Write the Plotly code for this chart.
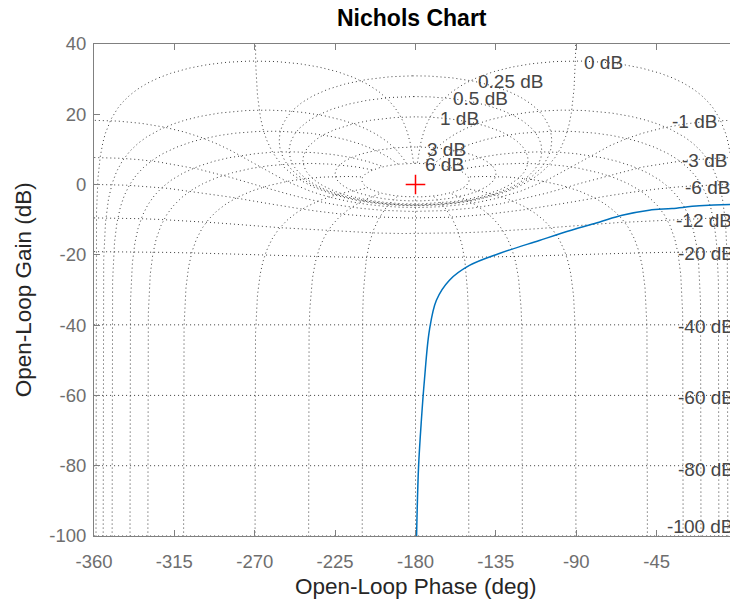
import numpy as np
import plotly.graph_objects as go

# ---------------- data ----------------
# open-loop response (phase in deg, gain in dB)
ol_phase = [-179.4, -178.3, -176.7, -175.0, -172.2, -168.3, -161.0, -149.8, -133.1,
            -110.7, -92.8, -77.2, -64.3, -49.2, -36.4, -21.1, -0.6, 0.0]
ol_gain = [-100.0, -80.4, -67.0, -55.6, -41.4, -32.9, -27.2, -23.0, -19.6,
           -15.9, -13.0, -10.7, -8.75, -7.3, -6.8, -6.05, -5.6, -5.6]

# Nichols grid: closed-loop gains (dB) and closed-loop phases (deg)
cl_gains = [6, 3, 1, 0.5, 0.25, 0, -1, -3, -6, -12, -20, -40, -60, -80, -100]
cl_phases = [1, 5, 10, 20, 30, 50, 90, 120, 150, 180]

gain_label_text = ["6 dB", "3 dB", "1 dB", "0.5 dB", "0.25 dB", "0 dB",
                   "-1 dB", "-3 dB", "-6 dB", "-12 dB", "-20 dB", "-40 dB",
                   "-60 dB", "-80 dB", "-100 dB"]

x_ticks = [-360, -315, -270, -225, -180, -135, -90, -45, 0]
y_ticks = [-100, -80, -60, -40, -20, 0, 20, 40]

# label anchor positions (phase, gain)
pos_label_xy = [(-176.0, 5.6), (-174.5, 10.0), (-167.5, 18.7), (-160.4, 24.4),
                (-146.0, 29.2), (-86.8, 34.6)]
neg_label_xy = [(-10.0, 17.9), (-4.5, 6.8), (-2.8, -0.8), (-1.6, -10.2),
                (-0.6, -19.6), (-0.6, -40.3), (-0.6, -60.5), (-0.6, -81.2),
                (-0.6, -97.4)]

GRID_COLOR = "rgb(60,60,60)"
GRID_DASH = "1px,3px"
FONT = "Liberation Sans, Arial, Helvetica, sans-serif"

fig = go.Figure()


def add_grid_line(ph, g):
    fig.add_trace(go.Scatter(x=ph, y=g, mode="lines",
                             line=dict(color=GRID_COLOR, width=1, dash=GRID_DASH),
                             hoverinfo="skip", showlegend=False))


# isogain lines
for gdb in cl_gains:
    M = 10 ** (gdb / 20.0)
    theta = np.radians(np.linspace(-359.95, -0.05, 7200))
    T = M * np.exp(1j * theta)
    G = T / (1 - T)
    ph = np.degrees(np.unwrap(np.angle(G)))
    ph = ph - 360 * np.round((ph.mean() + 180) / 360)
    if gdb > 0:
        ph = np.append(ph, ph[0])
        G = np.append(G, G[0])
    gg = 20 * np.log10(np.abs(G))
    gg = np.clip(gg, -200, 80)
    add_grid_line(ph, gg)

# isophase lines
r_db = np.concatenate([np.linspace(-140, -3, 1500), np.linspace(-3, 1.5, 3000),
                       np.linspace(1.5, 6, 600)])
r = 10 ** (r_db / 20.0)
seen = set()
for p in cl_phases:
    for cp in (-p, -360 + p):
        if cp in seen:
            continue
        seen.add(cp)
        T = r * np.exp(1j * np.radians(cp))
        G = T / (1 - T)
        ph = np.degrees(np.unwrap(np.angle(G)))
        ph = ph + 360 * np.round((cp - ph[0]) / 360)
        gg = 20 * np.log10(np.abs(G))
        add_grid_line(ph, np.clip(gg, -200, 80))

# response curve
fig.add_trace(go.Scatter(x=ol_phase, y=ol_gain, mode="lines",
                         line=dict(color="#0072BD", width=1.5, shape="spline", smoothing=1.0),
                         showlegend=False))

# critical point
fig.add_trace(go.Scatter(x=[-180], y=[0], mode="markers",
                         marker=dict(symbol="cross-thin", size=14,
                                     line=dict(color="red", width=1.5)),
                         showlegend=False))

# grid labels
pos_texts = gain_label_text[:6]
neg_texts = gain_label_text[6:]
annots = []
LBL_FONT = dict(family=FONT, size=19, color="rgb(70,70,70)")
for (x, y), t in zip(pos_label_xy, pos_texts):
    annots.append(dict(x=x, y=y, xref="x", yref="y", text=t, showarrow=False,
                       xanchor="left", yanchor="middle", font=LBL_FONT))
for (x, y), t in zip(neg_label_xy, neg_texts):
    annots.append(dict(x=x, y=y, xref="x", yref="y", text=t, showarrow=False,
                       xanchor="right", yanchor="middle", font=LBL_FONT))

# titles
annots.append(dict(x=0.495, y=1.052, xref="paper", yref="paper", text="<b>Nichols Chart</b>",
                   showarrow=False, xanchor="center", yanchor="middle",
                   font=dict(family=FONT, size=23, color="black")))
annots.append(dict(x=0.5, y=-0.102, xref="paper", yref="paper", text="Open-Loop Phase (deg)",
                   showarrow=False, xanchor="center", yanchor="middle",
                   font=dict(family=FONT, size=22.5, color="rgb(38,38,38)")))
annots.append(dict(x=-0.11, y=0.5, xref="paper", yref="paper", text="Open-Loop Gain (dB)",
                   showarrow=False, xanchor="center", yanchor="middle", textangle=-90,
                   font=dict(family=FONT, size=22.5, color="rgb(38,38,38)")))

axis_common = dict(showgrid=False, zeroline=False, showline=True, mirror="ticks",
                   linecolor="rgb(128,128,128)", linewidth=1, ticks="inside", ticklen=6,
                   tickcolor="rgb(128,128,128)", tickwidth=1, automargin=False,
                   tickfont=dict(family=FONT, size=18.5, color="rgb(110,110,110)"))

# the page body adds an 8px offset, margins compensate for it
fig.update_layout(
    width=738, height=603,
    margin=dict(l=86, r=9, t=36, b=75),
    paper_bgcolor="white", plot_bgcolor="white",
    xaxis=dict(range=[-360, 0], tickvals=x_ticks, ticktext=[str(v) for v in x_ticks],
               ticklabelstandoff=9, **axis_common),
    yaxis=dict(range=[-100, 40], tickvals=y_ticks, ticktext=[str(v) for v in y_ticks],
               ticklabelstandoff=3, **axis_common),
    annotations=annots,
    showlegend=False,
)

fig.write_html("out.html")
